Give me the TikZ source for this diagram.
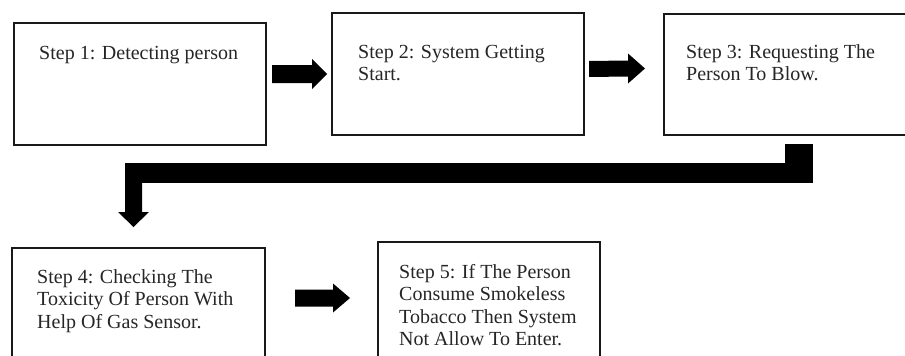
\documentclass[tikz,border=0pt]{standalone}
\usepackage{fontspec}
\setmainfont{Liberation Serif}
\usetikzlibrary{calc}
\newcommand\blkarrow[5]{% #1 start, #2 tip (pointing right), #3 half shaft, #4 half head, #5 head length
  \fill[arrowfill] ($(#1)+(0,-#3)$) -- ($(#2)+(-#5,-#3)$) -- ($(#2)+(-#5,-#4)$) -- (#2)
    -- ($(#2)+(-#5,#4)$) -- ($(#2)+(-#5,#3)$) -- ($(#1)+(0,#3)$) -- cycle;}
\begin{document}
\begin{tikzpicture}[x=1pt,y=-1pt,
  box/.style={draw=black!90, line width=2.6pt, fill=white, rectangle, inner sep=0pt, outer sep=0pt, anchor=north west},
  txt/.style={anchor=north west, inner sep=0pt, align=left, text=black!85,
    font=\fontsize{20pt}{22.5pt}\selectfont},
  arrowfill/.style={fill=black}]
\useasboundingbox (0,0) rectangle (905,356);
\clip (0,0) rectangle (905,356);
\fill[white] (0,0) rectangle (905,356);
% boxes
\node[box, minimum width=252pt, minimum height=122pt] (b1) at (14,23) {};
\node[box, minimum width=252pt, minimum height=122pt] (b2) at (332,13) {};
\node[box, minimum width=262pt, minimum height=121pt] (b3) at (664,14) {};
\node[box, minimum width=253pt, minimum height=130pt] (b4) at (12,248) {};
\node[box, minimum width=222pt, minimum height=135pt] (b5) at (378,242) {};
% texts
\node[txt] (t1) at (39,46) {Step 1: Detecting person};
\node[txt] (t2) at (358,45) {Step 2: System Getting\\Start.};
\node[txt] (t3) at (686,44) {Step 3: Requesting The\\Person To Blow.};
\node[txt] (t4) at (37,269) {Step 4: Checking The\\Toxicity Of Person With\\Help Of Gas Sensor.};
\node[txt] (t5) at (399,264) {Step 5: If The Person\\Consume Smokeless\\Tobacco Then System\\Not Allow To Enter.};
% block arrows between boxes
\coordinate (a1s) at ([xshift=6pt]b1.east |- b2.west);
\coordinate (a1e) at ([xshift=-5pt]b2.west);
\blkarrow{a1s}{a1e}{9}{15}{15}
\coordinate (a2s) at ($(b2.east)+(5,-5)$);
\coordinate (a2e) at ($(b3.west)+(-19,-6)$);
\blkarrow{a2s}{a2e}{8}{15}{17}
\coordinate (a3s) at (295,298);
\coordinate (a3e) at (350,298);
\blkarrow{a3s}{a3e}{8.5}{14.5}{17}
% L-shaped connector from step 3 to step 4
\coordinate (c0) at (785,144);
\coordinate (c1) at (813,183);
\coordinate (c2) at (125,163);
\coordinate (c3) at (133.5,183);
\coordinate (c4) at (133.5,227);
\fill[arrowfill] (c0) rectangle (c1);
\fill[arrowfill] (c2) rectangle (c0 |- c1);
\fill[arrowfill] ($(c3)+(-8.5,0)$) -- ($(c4)+(-8.5,-15)$) -- ($(c4)+(-15.5,-15)$) -- (c4)
  -- ($(c4)+(15.5,-15)$) -- ($(c4)+(8.5,-15)$) -- ($(c3)+(8.5,0)$) -- cycle;
\end{tikzpicture}
\end{document}
